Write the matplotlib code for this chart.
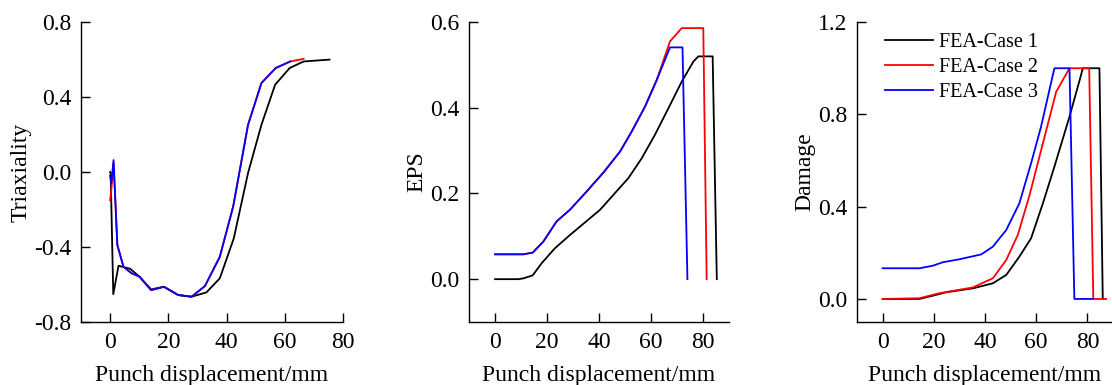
import numpy as np
import matplotlib
matplotlib.use("Agg")
import matplotlib.pyplot as plt

plt.rcParams['font.family'] = ['Liberation Serif', 'DejaVu Serif']
plt.rcParams['mathtext.fontset'] = 'stix'

LABELS = ["FEA-Case 1", "FEA-Case 2", "FEA-Case 3"]
COLORS = ["black", "red", "blue"]

# Triaxiality vs punch displacement
tri_x1 = [0, 0.2, 1.1, 2.9, 6.9, 10.1, 14.1, 18.5, 23.4, 28.0, 33.1, 37.7,
          42.5, 47.4, 52.0, 56.7, 61.7, 66.5, 75.4]
tri_y1 = [0.0, -0.004, -0.652, -0.50, -0.516, -0.558, -0.626, -0.612, -0.656,
          -0.665, -0.642, -0.567, -0.354, -0.005, 0.252, 0.466, 0.555, 0.59, 0.60]
tri_x2 = [0, 0.4, 1.2, 2.5, 4.6, 7.4, 10.1, 14.1, 18.5, 23.4, 28.0, 32.6,
          37.7, 42.3, 47.4, 52.0, 56.9, 61.9, 66.5]
tri_y2 = [-0.15, -0.10, 0.05, -0.39, -0.505, -0.54, -0.558, -0.63, -0.612,
          -0.656, -0.665, -0.608, -0.452, -0.183, 0.252, 0.475, 0.555, 0.59, 0.604]
tri_x3 = [0, 0.4, 1.2, 2.5, 4.6, 7.4, 10.1, 14.1, 18.5, 23.4, 28.0, 32.6,
          37.7, 42.3, 47.4, 52.0, 56.9, 61.9]
tri_y3 = [-0.02, -0.06, 0.064, -0.389, -0.505, -0.54, -0.558, -0.63, -0.612,
          -0.656, -0.665, -0.608, -0.452, -0.183, 0.252, 0.475, 0.555, 0.59]

# EPS vs punch displacement
eps_x1 = [0, 9.0, 11.0, 14.5, 17.9, 23.0, 28.8, 40.4, 51.3, 56.4, 61.5, 66.7,
          71.8, 76.3, 78.2, 83.7, 85.3]
eps_y1 = [0, 0, 0.002, 0.009, 0.037, 0.072, 0.103, 0.162, 0.236, 0.282, 0.337,
          0.399, 0.461, 0.508, 0.52, 0.52, 0.0]
eps_x2 = [0, 10.9, 14.5, 18.6, 23.7, 28.8, 35.3, 41.7, 48.1, 52.6, 57.7, 62.2,
          67.3, 71.8, 80.1, 81.4]
eps_y2 = [0.058, 0.058, 0.062, 0.088, 0.135, 0.162, 0.205, 0.249, 0.298, 0.345,
          0.403, 0.465, 0.555, 0.586, 0.586, 0.0]
eps_x3 = [0, 10.9, 14.5, 18.6, 23.7, 28.8, 35.3, 41.7, 48.1, 52.6, 57.7, 62.2,
          67.3, 72.1, 74.0]
eps_y3 = [0.058, 0.058, 0.062, 0.088, 0.135, 0.162, 0.205, 0.249, 0.298, 0.345,
          0.403, 0.465, 0.541, 0.541, 0.0]

# Damage vs punch displacement
dmg_x1 = [0, 14.4, 19.6, 24.8, 35.3, 43.1, 48.3, 53.4, 58.0, 62.6, 67.1, 73.0,
          77.5, 78.2, 84.7, 86.0]
dmg_y1 = [0, 0, 0.014, 0.029, 0.046, 0.068, 0.104, 0.183, 0.263, 0.414, 0.573,
          0.79, 0.97, 1.0, 1.0, 0.0]
dmg_x2 = [0, 14.4, 22.2, 35.3, 43.1, 48.3, 52.8, 57.4, 62.6, 67.8, 73.0, 80.7,
          82.3, 87.3]
dmg_y2 = [0, 0.003, 0.025, 0.05, 0.09, 0.169, 0.277, 0.45, 0.674, 0.898, 1.0,
          1.0, 0.0, 0.0]
dmg_x3 = [0, 14.4, 19.6, 23.5, 30.0, 38.5, 43.1, 48.3, 53.4, 58.0, 61.9, 67.1,
          73.0, 74.9, 82.1]
dmg_y3 = [0.133, 0.133, 0.144, 0.159, 0.172, 0.193, 0.227, 0.299, 0.414, 0.588,
          0.747, 1.0, 1.0, 0.0, 0.0]


def style(ax, xlim, ylim, yticks, ylabel):
    ax.set_xlim(*xlim)
    ax.set_ylim(*ylim)
    ax.set_xticks([0, 20, 40, 60, 80])
    ax.set_yticks(yticks)
    ax.set_yticklabels(["%.1f" % v for v in yticks])
    ax.spines['top'].set_visible(False)
    ax.spines['right'].set_visible(False)
    for s in ('left', 'bottom'):
        ax.spines[s].set_linewidth(1.0)
    ax.tick_params(direction='in', length=6.5, width=1.0, labelsize=17, pad=7)
    ax.set_xlabel("Punch displacement/mm", fontsize=17, labelpad=9)
    ax.set_ylabel(ylabel, fontsize=17, labelpad=2)


fig = plt.figure(figsize=(11.12, 3.85), dpi=100)
ax1 = fig.add_axes([0.0728, 0.1636, 0.2356, 0.779])
ax2 = fig.add_axes([0.4218, 0.1636, 0.2338, 0.779])
ax3 = fig.add_axes([0.7707, 0.1636, 0.2302, 0.779])

for xs, ys, c in zip([tri_x1, tri_x2, tri_x3], [tri_y1, tri_y2, tri_y3], COLORS):
    ax1.plot(xs, ys, color=c, lw=1.3)
style(ax1, (-10, 80), (-0.8, 0.8), [-0.8, -0.4, 0.0, 0.4, 0.8], "Triaxiality")

for xs, ys, c in zip([eps_x1, eps_x2, eps_x3], [eps_y1, eps_y2, eps_y3], COLORS):
    ax2.plot(xs, ys, color=c, lw=1.3)
style(ax2, (-10, 90), (-0.1, 0.6), [0.0, 0.2, 0.4, 0.6], "EPS")

for xs, ys, c, lab in zip([dmg_x1, dmg_x2, dmg_x3], [dmg_y1, dmg_y2, dmg_y3],
                          COLORS, LABELS):
    ax3.plot(xs, ys, color=c, lw=1.3, label=lab)
style(ax3, (-10, 90), (-0.1, 1.2), [0.0, 0.4, 0.8, 1.2], "Damage")
ax3.legend(loc='upper left', bbox_to_anchor=(0.109, 0.965), frameon=False,
           fontsize=14.5, handlelength=2.4, handletextpad=0.3, labelspacing=0.3,
           borderpad=0, borderaxespad=0)

fig.savefig("out.png", dpi=100)
